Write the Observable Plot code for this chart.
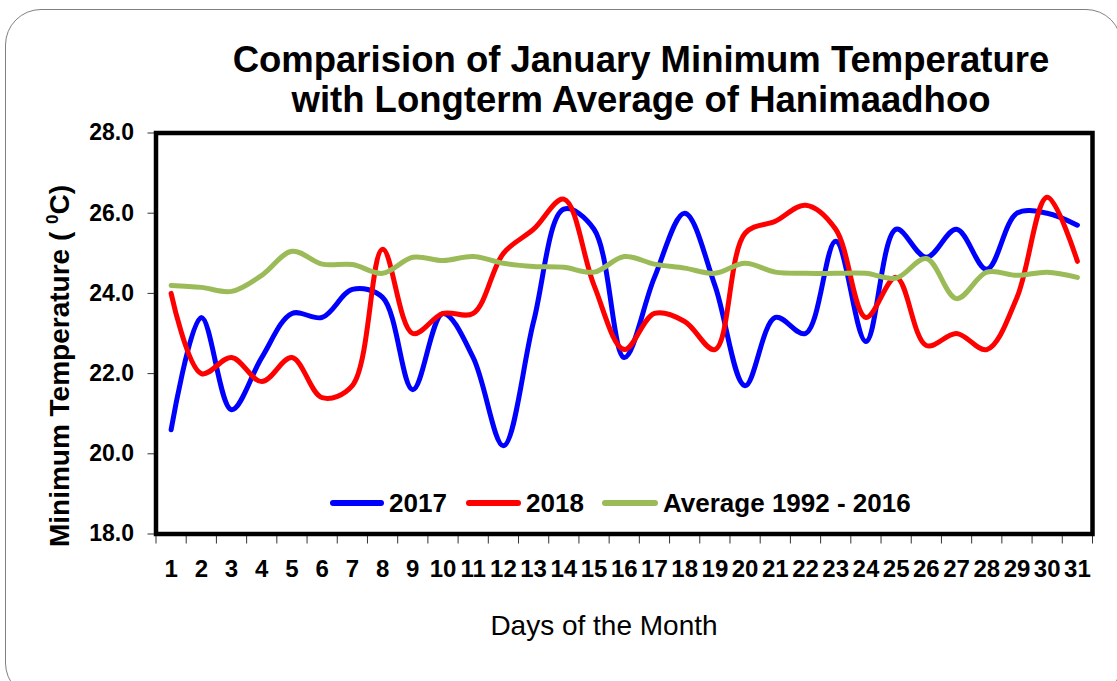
<!DOCTYPE html>
<html><head><meta charset="utf-8">
<script src="https://cdn.jsdelivr.net/npm/d3@7"></script>
<script src="https://cdn.jsdelivr.net/npm/@observablehq/plot@0.6"></script>
<style>
html,body{margin:0;padding:0;background:#fff;overflow:hidden;}
#wrap{position:relative;width:1117px;height:681px;overflow:hidden;font-family:"Liberation Sans",Arial,Helvetica,sans-serif;color:#000;}
#border{position:absolute;left:5px;top:9px;width:1117px;height:690px;border:1.5px solid #808080;border-radius:36px;box-sizing:border-box;}
#title{position:absolute;left:141px;top:39.5px;width:1000px;text-align:center;font-size:36.5px;font-weight:bold;line-height:40px;white-space:nowrap;}
#ylab{position:absolute;left:-139.7px;top:352px;width:400px;height:28px;line-height:28px;text-align:center;font-size:28px;font-weight:bold;transform:rotate(-90deg);transform-origin:50% 50%;white-space:nowrap;}
#ylab sup{font-size:17px;line-height:0;vertical-align:11px;}
#xlab{position:absolute;left:404px;top:612px;width:400px;text-align:center;font-size:28px;line-height:28px;white-space:nowrap;}
#chart{position:absolute;left:0;top:0;}
.sw{position:absolute;height:6px;border-radius:3px;}
.lt{position:absolute;font-size:26px;font-weight:bold;line-height:26px;white-space:nowrap;}
</style></head>
<body>
<div id="wrap">
  <div id="border"></div>
  <div id="chart"></div>
  <div id="title">Comparision of January Minimum Temperature<br>with Longterm Average of Hanimaadhoo</div>
  <div id="ylab">Minimum Temperature ( <sup>0</sup>C)</div>
  <div id="xlab">Days of the Month</div>
  <div id="legend"></div>
</div>
<script>
const days = [1,2,3,4,5,6,7,8,9,10,11,12,13,14,15,16,17,18,19,20,21,22,23,24,25,26,27,28,29,30,31];
const t2017 = [20.6,23.4,21.1,22.4,23.5,23.4,24.1,23.9,21.6,23.5,22.4,20.2,23.3,26.1,25.6,22.4,24.4,26.0,24.2,21.7,23.4,23.0,25.3,22.8,25.6,24.9,25.6,24.6,26.0,26.0,25.7];
const t2018 = [24.0,22.0,22.4,21.8,22.4,21.4,21.7,25.1,23.0,23.5,23.5,25.0,25.6,26.35,24.2,22.6,23.5,23.3,22.6,25.5,25.8,26.2,25.6,23.4,24.4,22.7,23.0,22.6,23.9,26.4,24.8];
const tAvg = [24.2,24.15,24.05,24.45,25.05,24.73,24.72,24.5,24.9,24.82,24.92,24.75,24.67,24.65,24.53,24.92,24.73,24.63,24.5,24.75,24.53,24.5,24.5,24.5,24.38,24.87,23.87,24.53,24.45,24.53,24.4];
const seriesNames = ["2017","2018","Average 1992 - 2016"];
const seriesColors = ["#0000ff","#ff0000","#9bbb59"];
const yTicks = [18,20,22,24,26,28];

const seriesValues = [t2017, t2018, tAvg];
const rows = [];
seriesNames.forEach((s, i) => days.forEach((d, j) => rows.push({series: s, day: d, value: seriesValues[i][j]})));
const boundaries = days.map(d => d - 0.5).concat([days[days.length - 1] + 0.5]);

const plot = Plot.plot({
  width: 1117, height: 681,
  marginLeft: 155.5, marginRight: 25, marginTop: 132.5, marginBottom: 147.5,
  x: {domain: [0.5, 31.5], axis: null},
  y: {domain: [18, 28], axis: null},
  color: {domain: seriesNames, range: seriesColors},
  style: {fontFamily: '"Liberation Sans", Arial, sans-serif', background: "transparent", overflow: "visible"},
  marks: [
    Plot.axisY(yTicks, {tickSize: 8, tickPadding: 14, tickFormat: d => d.toFixed(1), fontSize: 23, fontWeight: "bold", fill: "black", stroke: "#333", label: null}),
    Plot.axisX(boundaries, {tickSize: 10, fill: "none", stroke: "#333", tickFormat: () => "", label: null}),
    Plot.axisX(days, {tickSize: 0, tickPadding: 26, fontSize: 24, fontWeight: "bold", fill: "black", label: null}),
    Plot.line(rows, {x: "day", y: "value", z: "series", stroke: "series", curve: "catmull-rom", strokeWidth: 5, strokeLinecap: "round", strokeLinejoin: "round"}),
    Plot.frame({stroke: "black", strokeWidth: 4.5})
  ]
});
document.getElementById("chart").appendChild(plot);

// legend (HTML overlay inside plot area)
const legend = document.getElementById("legend");
const swLeft = [330, 466, 602], swWidth = [54, 55, 56], txtLeft = [389, 526, 663];
seriesNames.forEach((s, i) => {
  const sw = document.createElement("div");
  sw.className = "sw";
  sw.style.left = swLeft[i] + "px"; sw.style.top = "499.5px"; sw.style.width = swWidth[i] + "px";
  sw.style.background = seriesColors[i];
  legend.appendChild(sw);
  const t = document.createElement("div");
  t.className = "lt";
  t.style.left = txtLeft[i] + "px"; t.style.top = "489.5px";
  t.textContent = s;
  legend.appendChild(t);
});
</script>
</body></html>
